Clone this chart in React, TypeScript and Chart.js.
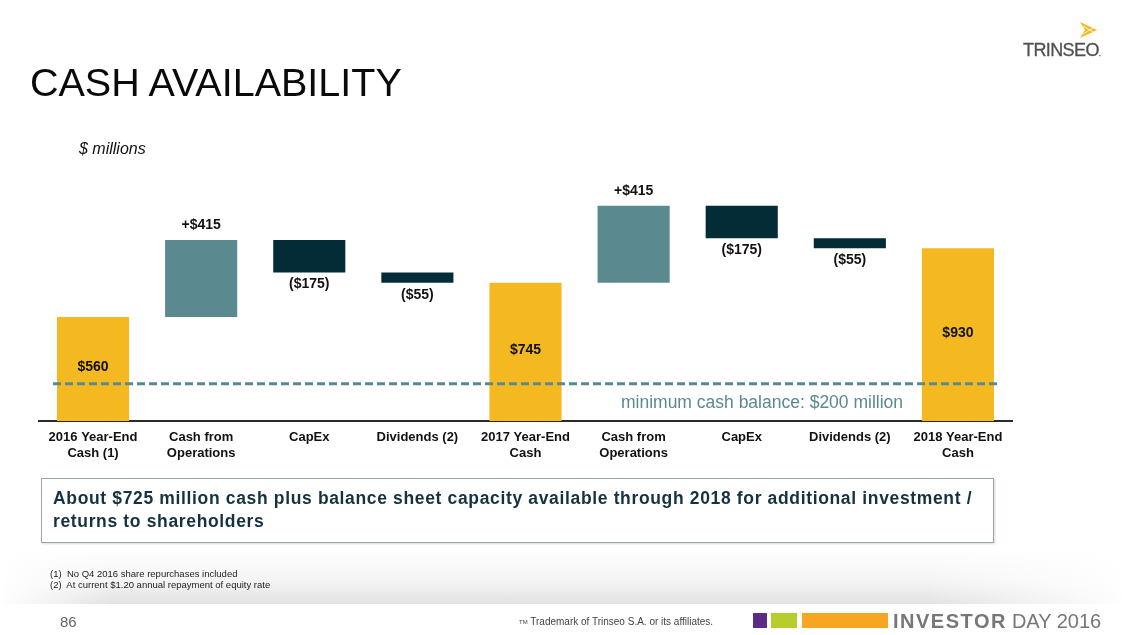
import React, { useEffect, useRef } from "react";
import { Chart, registerables } from "chart.js";

Chart.register(...registerables);

// ---- data ----
const categories: string[][] = [
  ["2016 Year-End", "Cash (1)"],
  ["Cash from", "Operations"],
  ["CapEx"],
  ["Dividends (2)"],
  ["2017 Year-End", "Cash"],
  ["Cash from", "Operations"],
  ["CapEx"],
  ["Dividends (2)"],
  ["2018 Year-End", "Cash"],
];
const stepValues = [560, 415, -175, -55, 745, 415, -175, -55, 930];
const stepKinds = ["total", "increase", "decrease", "decrease", "total", "increase", "decrease", "decrease", "total"];
const minimumCash = 200;
const minimumCashLabel = "minimum cash balance: $200 million";
const yMax = 1352;

const kindColors: Record<string, string> = {
  total: "#F4B920",
  increase: "#5A8A90",
  decrease: "#032C36",
};

const FONT = '"Liberation Sans", Arial, Helvetica, sans-serif';

function buildRanges(): [number, number][] {
  let running = 0;
  return stepValues.map((v, i) => {
    if (stepKinds[i] === "total") {
      running = v;
      return [0, v];
    }
    const start = running;
    running += v;
    return [start, running];
  });
}

function labelFor(i: number): string {
  const v = stepValues[i];
  if (stepKinds[i] === "total") return `$${v}`;
  if (stepKinds[i] === "increase") return `+$${v}`;
  return `($${-v})`;
}

const waterfallPlugin = {
  id: "waterfallLabels",
  afterDatasetsDraw(chart: any) {
    const ctx = chart.ctx as CanvasRenderingContext2D;
    const meta = chart.getDatasetMeta(0);
    const area = chart.chartArea;
    const yScale = chart.scales.y;
    ctx.save();
    // dashed minimum line
    const ly = yScale.getPixelForValue(minimumCash);
    ctx.setLineDash([8, 4]);
    ctx.lineWidth = 3;
    ctx.strokeStyle = "#5A8A90";
    ctx.beginPath();
    ctx.moveTo(area.left + 14, ly);
    ctx.lineTo(area.right - 12, ly);
    ctx.stroke();
    ctx.setLineDash([]);
    ctx.font = `17.5px ${FONT}`;
    ctx.fillStyle = "#5A8A90";
    ctx.textAlign = "center";
    ctx.textBaseline = "middle";
    ctx.fillText(minimumCashLabel, area.right - 250, ly + 19);

    // bar labels
    ctx.font = `bold 14px ${FONT}`;
    ctx.fillStyle = "#111";
    meta.data.forEach((el: any, i: number) => {
      const top = Math.min(el.y, el.base);
      const bottom = Math.max(el.y, el.base);
      let ty: number;
      if (stepKinds[i] === "total") ty = (top + bottom) / 2 - 2;
      else if (stepKinds[i] === "increase") ty = top - 15;
      else ty = bottom + 12;
      ctx.fillText(labelFor(i), el.x, ty);
    });
    ctx.restore();
  },
};

function WaterfallChart() {
  const ref = useRef<HTMLCanvasElement | null>(null);
  useEffect(() => {
    if (!ref.current) return;
    const ranges = buildRanges();
    const chart = new Chart(ref.current, {
      type: "bar",
      data: {
        labels: categories as any,
        datasets: [
          {
            data: ranges as any,
            backgroundColor: stepKinds.map((k) => kindColors[k]),
            borderWidth: 0,
            borderSkipped: false,
            categoryPercentage: 1,
            barPercentage: 0.667,
          },
        ],
      },
      options: {
        animation: false,
        responsive: false,
        devicePixelRatio: 1,
        layout: { padding: { left: 39, right: 116, top: 170, bottom: 169 } },
        plugins: {
          legend: { display: false },
          tooltip: { enabled: false },
        },
        scales: {
          x: {
            grid: { display: false, drawTicks: false },
            border: { display: true, color: "#2a2a2a", width: 2 },
            ticks: {
              font: { family: FONT, size: 13, weight: "bold", lineHeight: 1.23 },
              color: "#111",
              padding: 8,
              maxRotation: 0,
              autoSkip: false,
            },
            afterFit: (s: any) => {
              s.height = 45;
            },
          },
          y: { display: false, min: 0, max: yMax },
        },
      },
      plugins: [waterfallPlugin],
    });
    return () => chart.destroy();
  }, []);
  return (
    <canvas
      ref={ref}
      width={1128}
      height={635}
      style={{ position: "absolute", left: 0, top: 0, width: 1128, height: 635, zIndex: 1, pointerEvents: "none" }}
    />
  );
}

const abs = (o: React.CSSProperties): React.CSSProperties => ({ position: "absolute", whiteSpace: "nowrap", ...o });

export default function App() {
  return (
    <div
      style={{
        position: "absolute",
        left: 0,
        top: 0,
        width: 1128,
        height: 635,
        overflow: "hidden",
        background: "#fff",
        fontFamily: FONT,
      }}
    >
      {/* footer gradient band */}
      <div
        style={abs({
          left: 0,
          top: 548,
          width: 1128,
          height: 56,
          background:
            "linear-gradient(to right, #fff 0%, rgba(255,255,255,0) 10%, rgba(255,255,255,0) 82%, #fff 100%), linear-gradient(to bottom, #fff 0%, #f4f4f4 60%, #e2e2e2 100%)",
        })}
      />
      {/* logo */}
      <svg style={abs({ left: 1079, top: 22, zIndex: 2 })} width={19} height={16} viewBox="0 0 19 16">
        <polygon points="1,0 18,8 1,16 6,8" fill="#F4B920" />
        <line x1="4" y1="4" x2="14" y2="10" stroke="#fff" strokeWidth="0.8" />
        <line x1="4" y1="12" x2="14" y2="6" stroke="#fff" strokeWidth="0.8" />
      </svg>
      <div style={abs({ left: 1023, top: 41, fontSize: 18, lineHeight: "18px", color: "#4F5053", letterSpacing: -0.6, zIndex: 2, WebkitTextStroke: "0.3px #4F5053" })}>
        TRINSEO<span style={{ fontSize: 8 }}>.</span>
      </div>
      {/* title */}
      <div style={abs({ left: 30, top: 63, fontSize: 39.5, lineHeight: "39px", color: "#0a0a0a", zIndex: 2 })}>CASH AVAILABILITY</div>
      <div style={abs({ left: 79, top: 141, fontSize: 16, lineHeight: "16px", fontStyle: "italic", color: "#111", zIndex: 2 })}>
        $ millions
      </div>

      <WaterfallChart />

      {/* summary box */}
      <div
        style={abs({
          left: 41,
          top: 478,
          width: 951,
          height: 63,
          border: "1px solid #9AA6A9",
          boxShadow: "1px 1px 2px rgba(0,0,0,0.15)",
          whiteSpace: "normal",
          zIndex: 2,
        })}
      >
        <div
          style={{
            position: "absolute",
            left: 11,
            top: 8,
            width: 930,
            fontSize: 17.5,
            lineHeight: "23px",
            fontWeight: "bold",
            letterSpacing: 0.65,
            color: "#14323F",
          }}
        >
          About $725 million cash plus balance sheet capacity available through 2018 for additional investment / returns to shareholders
        </div>
      </div>

      {/* footnotes */}
      <div style={abs({ left: 50, top: 568, fontSize: 9.5, lineHeight: "11px", color: "#222", zIndex: 2 })}>
        <div>(1)&nbsp; No Q4 2016 share repurchases included</div>
        <div>(2)&nbsp; At current $1.20 annual repayment of equity rate</div>
      </div>

      {/* footer */}
      <div style={abs({ left: 60, top: 614, fontSize: 15, lineHeight: "15px", color: "#666", zIndex: 2 })}>86</div>
      <div style={abs({ left: 519, top: 617, fontSize: 10, lineHeight: "10px", color: "#444", zIndex: 2 })}>
        <span style={{ fontSize: 6, verticalAlign: "top" }}>TM</span> Trademark of Trinseo S.A. or its affiliates.
      </div>
      <div style={abs({ left: 753, top: 613, width: 14, height: 15, background: "#5B2C86" })} />
      <div style={abs({ left: 771, top: 613, width: 26, height: 15, background: "#B7CD2E" })} />
      <div style={abs({ left: 802, top: 613, width: 86, height: 15, background: "#F6A623" })} />
      <div style={abs({ left: 893, top: 611, fontSize: 20, lineHeight: "20px", color: "#76777A", zIndex: 2 })}>
        <span style={{ fontWeight: "bold", letterSpacing: 1.5 }}>INVESTOR</span>
        <span style={{ marginLeft: 5 }}>DAY 2016</span>
      </div>
    </div>
  );
}
